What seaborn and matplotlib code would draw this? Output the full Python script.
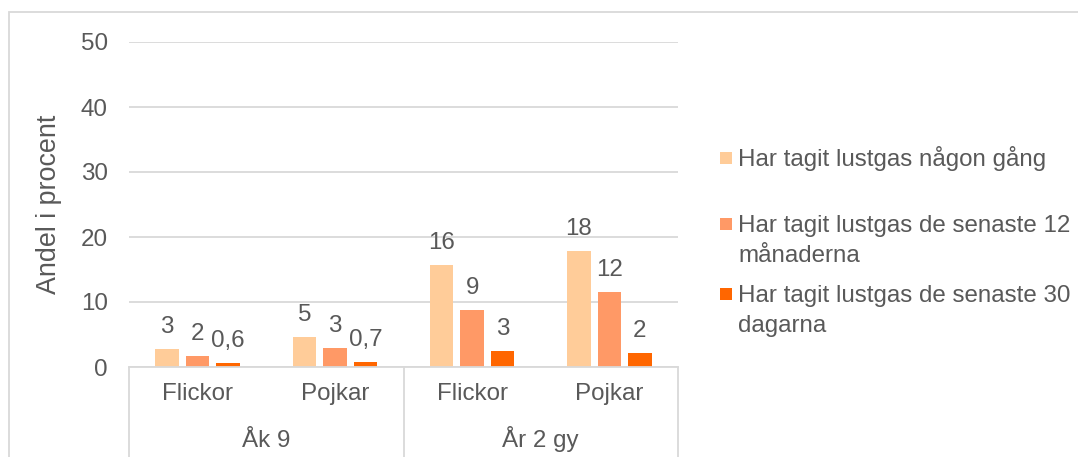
import matplotlib
matplotlib.use("Agg")
import matplotlib.pyplot as plt
import seaborn as sns
import pandas as pd
from matplotlib.patches import Rectangle
from matplotlib.transforms import blended_transform_factory

# ---- data ----
groups = ["Åk 9", "Åk 9", "År 2 gy", "År 2 gy"]
subgroups = ["Flickor", "Pojkar", "Flickor", "Pojkar"]
series = [
    "Har tagit lustgas någon gång",
    "Har tagit lustgas de senaste 12 månaderna",
    "Har tagit lustgas de senaste 30 dagarna",
]
legend_labels = [
    "Har tagit lustgas någon gång",
    "Har tagit lustgas de senaste 12\nmånaderna",
    "Har tagit lustgas de senaste 30\ndagarna",
]
values_ever = [2.8, 4.6, 15.7, 17.9]
values_12m = [1.7, 2.9, 8.8, 11.5]
values_30d = [0.6, 0.7, 2.5, 2.2]
labels_ever = ["3", "5", "16", "18"]
labels_12m = ["2", "3", "9", "12"]
labels_30d = ["0,6", "0,7", "3", "2"]
colors = ["#FFCC99", "#FF9966", "#FF6600"]
y_ticks = [0, 10, 20, 30, 40, 50]
y_label = "Andel i procent"

# ---- frame ----
cats = [f"{g} {s}" for g, s in zip(groups, subgroups)]
rows = []
for ser, vals in zip(series, [values_ever, values_12m, values_30d]):
    for c, v in zip(cats, vals):
        rows.append({"cat": c, "serie": ser, "value": v})
df = pd.DataFrame(rows)

sns.set_style("white")
plt.rcParams["font.family"] = ["Liberation Sans", "DejaVu Sans"]
TXT = "#595959"
GRID = "#D9D9D9"
FS = 17.4

W, H = 1078, 457
fig = plt.figure(figsize=(W / 100, H / 100), dpi=100)
L, R, T, B = 129, 678, 42, 367
ax = fig.add_axes([L / W, 1 - B / H, (R - L) / W, (B - T) / H])

sns.barplot(data=df, x="cat", y="value", hue="serie", order=cats,
            hue_order=series, palette=colors, width=0.666, gap=0.23,
            errorbar=None, ax=ax, legend=False, linewidth=0, saturation=1)

ax.set_xlim(-0.5, len(cats) - 0.5)
ax.set_ylim(0, 50)
ax.set_yticks(y_ticks)
ax.set_yticklabels([str(t) for t in y_ticks])
ax.yaxis.grid(True, color=GRID, linewidth=1.3)
ax.set_axisbelow(True)
for s in ["left", "right", "top"]:
    ax.spines[s].set_visible(False)
ax.spines["bottom"].set_color(GRID)
ax.spines["bottom"].set_linewidth(1.3)
ax.tick_params(axis="y", length=0, pad=15.3, labelsize=FS, labelcolor=TXT)
ax.tick_params(axis="x", length=0, pad=11.5, labelsize=FS, labelcolor=TXT)
ax.set_xticks(range(len(cats)))
ax.set_xticklabels(subgroups)
ax.set_xlabel("")
ax.set_ylabel(y_label, fontsize=19.4, color=TXT)
ax.yaxis.label.set_va("center")
ax.yaxis.set_label_coords((49 - L) / (R - L), 0.5)

# data labels
all_labels = [labels_ever, labels_12m, labels_30d]
for cont, labs in zip(ax.containers, all_labels):
    for bar, lab in zip(cont, labs):
        ax.annotate(lab, (bar.get_x() + bar.get_width() / 2, bar.get_height()),
                    xytext=(0, 11.5), textcoords="offset points",
                    ha="center", va="baseline", fontsize=FS, color=TXT)

# multi-level category axis
trans = blended_transform_factory(ax.transData, ax.transAxes)
unique_groups = []
for g in groups:
    if g not in unique_groups:
        unique_groups.append(g)
edges = [-0.5]
for g in unique_groups:
    idx = [i for i, gg in enumerate(groups) if gg == g]
    center = (idx[0] + idx[-1]) / 2
    ax.text(center, -(447 - B) / (B - T), g, transform=trans, ha="center",
            va="baseline", fontsize=FS, color=TXT)
    edges.append(idx[-1] + 0.5)
for e in edges:
    ax.plot([e, e], [0, -0.35], transform=trans, color=GRID, linewidth=1.3,
            clip_on=False)

# legend (manual, Excel-like)
entry_base = [166, 232, 302]
line_step = 30
for lab, col, yb in zip(legend_labels, colors, entry_base):
    fig.add_artist(Rectangle((720 / W, 1 - (yb - 2) / H), 12 / W, 12 / H,
                             transform=fig.transFigure, color=col, lw=0))
    for k, line in enumerate(lab.split("\n")):
        fig.text(738 / W, 1 - (yb + k * line_step) / H, line, ha="left",
                 va="baseline", fontsize=FS, color=TXT)

# outer chart border
fig.add_artist(Rectangle((9 / W, -0.1), 1.2, 1 - 12 / H + 0.1,
                         transform=fig.transFigure, fill=False,
                         edgecolor=GRID, linewidth=1.3))

fig.savefig("out.png", dpi=100, facecolor="white")
